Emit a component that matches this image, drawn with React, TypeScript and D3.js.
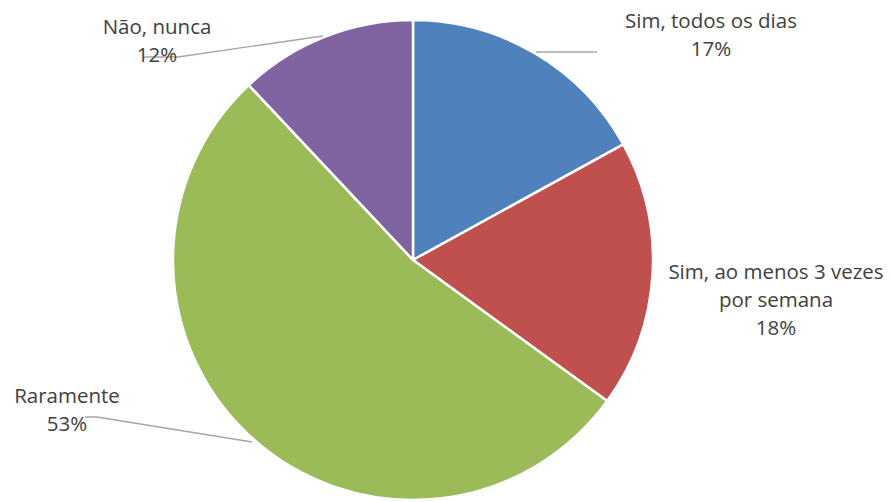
import React from "react";
import * as d3 from "d3";

const categories = ["Sim, todos os dias", "Sim, ao menos 3 vezes por semana", "Raramente", "Não, nunca"];
const values = [17, 18, 53, 12];
const colors = ["#4F81BD", "#C0504D", "#9BBB59", "#8064A2"];
const labelLines = [
  ["Sim, todos os dias", "17%"],
  ["Sim, ao menos 3 vezes", "por semana", "18%"],
  ["Raramente", "53%"],
  ["Não, nunca", "12%"],
];
const labelPos = [
  [711, 28],
  [776, 279],
  [67, 403],
  [157, 34],
];
const leaders: [number, number][][] = [
  [[536, 52], [597, 52]],
  [],
  [[252, 442], [97, 417], [85, 417]],
  [[323, 36], [178, 57], [143, 57]],
];

export default function App() {
  const W = 891, H = 502;
  const cx = 413, cy = 260, r = 240;
  const pie = d3.pie<number>().sort(null).value((d) => d)(values);
  const arc = d3.arc<d3.PieArcDatum<number>>().innerRadius(0).outerRadius(r);
  const line = d3.line();
  return (
    <svg width={W} height={H} style={{ position: "absolute", left: 0, top: 0 }}>
      <rect width={W} height={H} fill="#fff" />
      <g transform={`translate(${cx},${cy})`}>
        {pie.map((d, i) => (
          <path key={i} d={arc(d) || ""} fill={colors[i]} stroke="#fff" strokeWidth={2.5} strokeLinejoin="round" />
        ))}
      </g>
      {leaders.map((pts, i) =>
        pts.length ? <path key={i} d={line(pts) || ""} fill="none" stroke="#A6A6A6" strokeWidth={1.3} /> : null
      )}
      {labelLines.map((lines, i) => (
        <text key={i} fontFamily="'Open Sans', sans-serif" fontSize={20.5} fill="#404040" textAnchor="middle">
          {lines.map((t, j) => (
            <tspan key={j} x={labelPos[i][0]} y={labelPos[i][1] + j * 28}>{t}</tspan>
          ))}
        </text>
      ))}
    </svg>
  );
}
